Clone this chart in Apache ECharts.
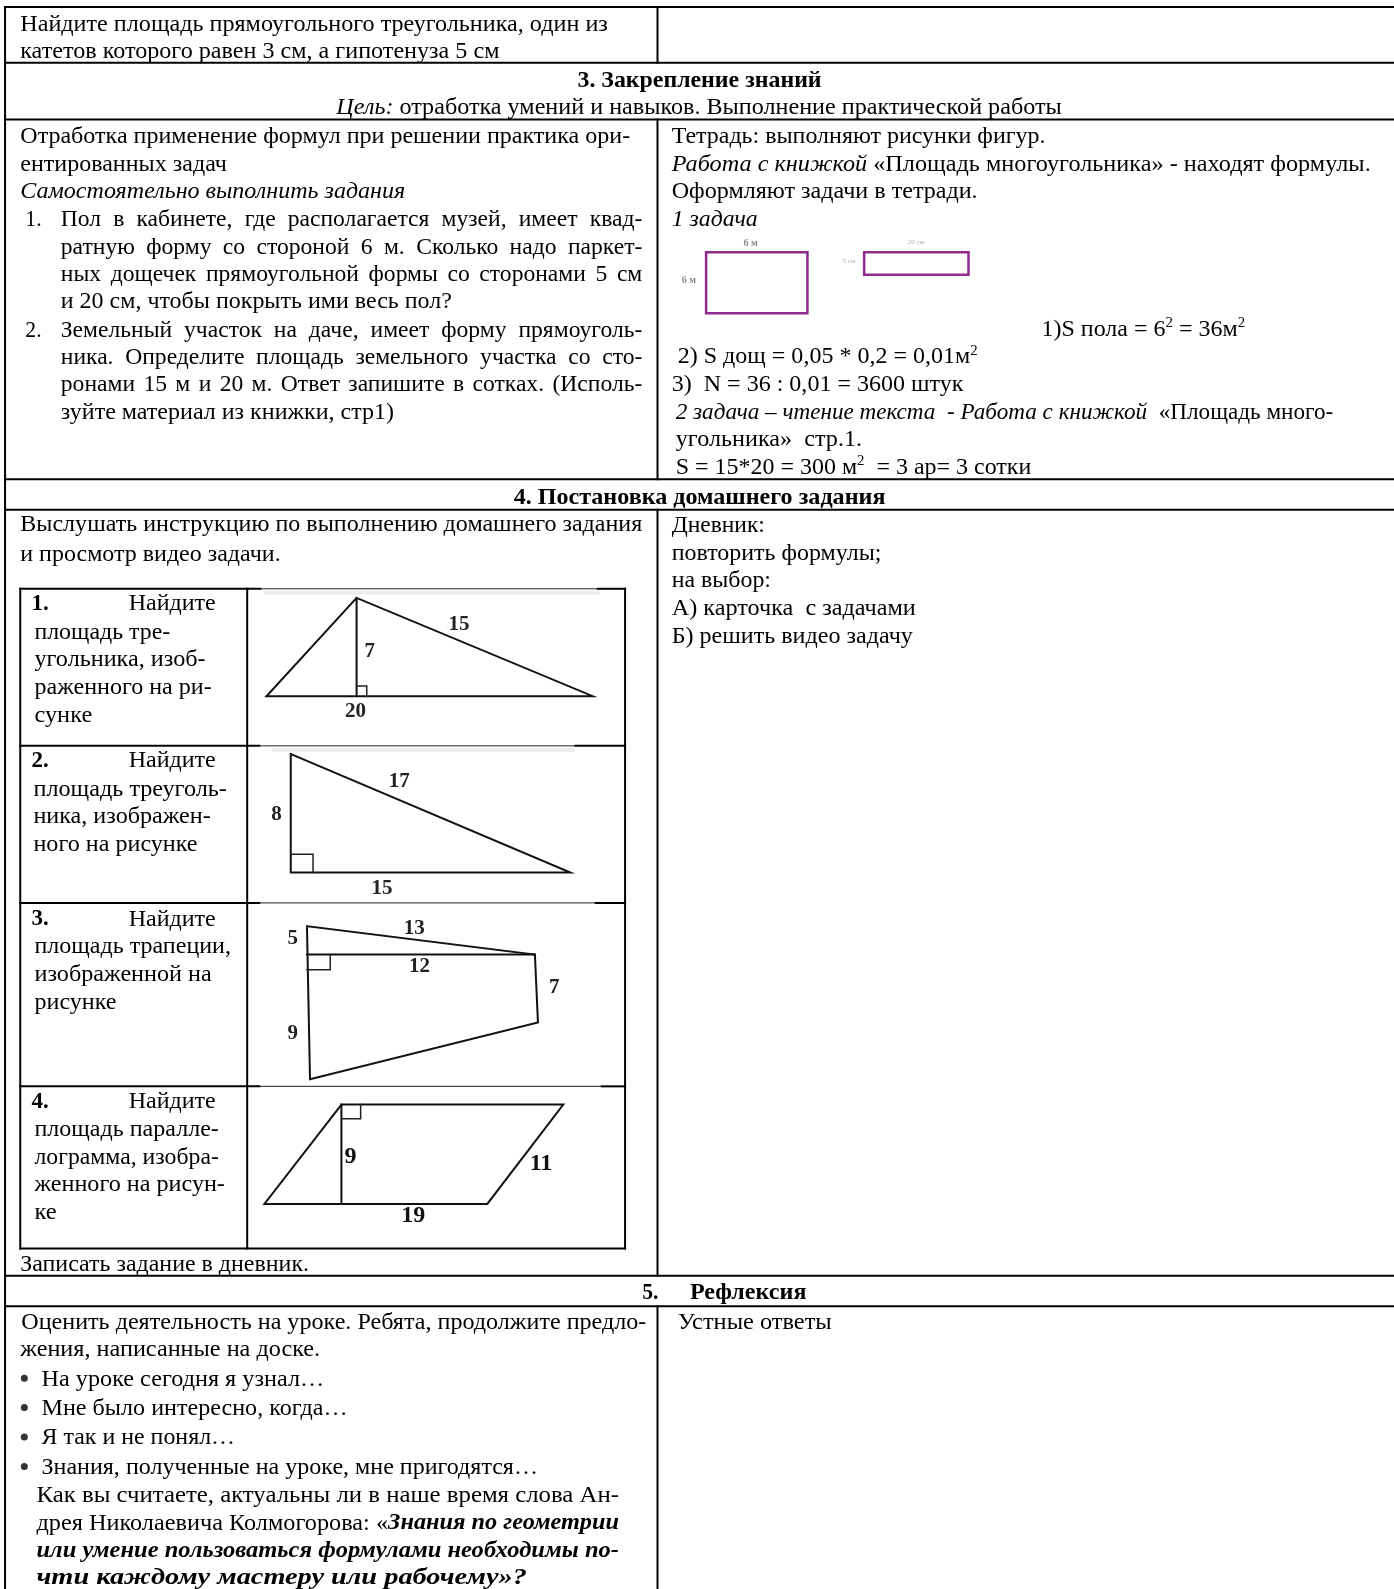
<!DOCTYPE html>
<html>
<head>
<meta charset="utf-8">
<title>Урок</title>
<script src="https://cdn.jsdelivr.net/npm/echarts@6/dist/echarts.min.js"></script>
<style>
  html, body { margin: 0; padding: 0; background: #fff; }
  #main { width: 1394px; height: 1589px; }
</style>
</head>
<body>
<div id="main"></div>
<script>
// text of the page. markup: {i|..} italic, {b|..} bold, {bi|..} bold italic, {s|..} superscript
const introLines = [
  "Найдите площадь прямоугольного треугольника, один из",
  "катетов которого равен 3 см, а гипотенуза 5 см"
];
const section3Head = ["{b|3. Закрепление знаний}", "{i|Цель:} отработка умений и навыков. Выполнение практической работы"];
const practiceLines = [
  "Отработка применение формул при решении практика ори-",
  "ентированных задач",
  "{i|Самостоятельно выполнить задания}"
];
const taskNumbers = ["1.", "2."];
const task1Lines = [
  "Пол в кабинете, где располагается музей, имеет квад-",
  "ратную форму со стороной 6 м. Сколько надо паркет-",
  "ных дощечек прямоугольной формы со сторонами 5 см",
  "и 20 см, чтобы покрыть ими весь пол?"
];
const task2Lines = [
  "Земельный участок на даче, имеет форму прямоуголь-",
  "ника.  Определите площадь земельного участка со сто-",
  "ронами 15 м и 20 м.  Ответ запишите в сотках.  (Исполь-",
  "зуйте материал из книжки, стр1)"
];
const notebookLines = [
  "Тетрадь: выполняют рисунки фигур.",
  "{i|Работа с книжкой} «Площадь многоугольника» - находят формулы.",
  "Оформляют задачи в тетради.",
  "{i|1 задача}"
];
const solutionLines = [
  "1)S пола = 6{s|2} = 36м{s|2}",
  "2) S дощ = 0,05 * 0,2 = 0,01м{s|2}",
  "3)  N = 36 : 0,01 = 3600 штук",
  "{i|2 задача – чтение текста  - Работа с книжкой}  «Площадь много-",
  "угольника»  стр.1.",
  "S = 15*20 = 300 м{s|2}  = 3 ар= 3 сотки"
];
const section4Head = ["{b|4. Постановка домашнего задания}"];
const homeworkLines = ["Выслушать инструкцию по выполнению домашнего задания", "и просмотр видео задачи."];
const diaryLines = ["Дневник:", "повторить формулы;", "на выбор:", "А) карточка  с задачами", "Б) решить видео задачу"];
const cardNumbers = ["{b|1.}", "{b|2.}", "{b|3.}", "{b|4.}"];
const cardFirstWord = "Найдите";
const card1Lines = ["площадь тре-", "угольника, изоб-", "раженного на ри-", "сунке"];
const card2Lines = ["площадь треуголь-", "ника, изображен-", "ного на рисунке"];
const card3Lines = ["площадь трапеции,", "изображенной на", "рисунке"];
const card4Lines = ["площадь паралле-", "лограмма, изобра-", "женного на рисун-", "ке"];
const writeDownLine = ["Записать задание в дневник."];
const section5Number = ["{b|5.}"];
const section5Title = ["{b|Рефлексия}"];
const reflectionLines = ["Оценить деятельность на уроке. Ребята, продолжите предло-", "жения, написанные на доске."];
const bulletLines = [
  "На уроке сегодня я узнал…",
  "Мне было интересно, когда…",
  "Я так и не понял…",
  "Знания, полученные на уроке, мне пригодятся…"
];
const quoteLines = [
  "Как вы считаете, актуальны ли в наше время слова Ан-",
  "дрея Николаевича Колмогорова: «{bi|Знания по геометрии}",
  "{bi|или умение пользоваться формулами необходимы по-}",
  "{bi|чти каждому мастеру или рабочему»?}"
];
const oralLine = ["Устные ответы"];

// ruled lines of the table, [x, y] in the units of the hidden axes
const tableRules = [
  [[5, 7], [1376, 7]], [[5, 62], [1376, 62]], [[5, 118], [1376, 118]],
  [[5, 473], [1376, 473]], [[5, 503], [1376, 503]], [[5, 1259], [1376, 1259]], [[5, 1289], [1376, 1289]],
  [[5, 7], [5, 1568]],
  [[649, 7], [649, 62]], [[649, 118], [649, 473]], [[649, 503], [649, 1259]], [[649, 1289], [649, 1568]]
];
const cardRules = [
  [[20, 581], [257, 581]], [[590, 581], [617, 581]],
  [[20, 736], [256, 736]], [[568, 736], [617, 736]],
  [[20, 891], [256, 891]], [[588, 891], [617, 891]],
  [[20, 1072], [256, 1072]], [[594, 1072], [617, 1072]],
  [[20, 1232], [617, 1232]],
  [[20, 581], [20, 1232]], [[244, 581], [244, 1232]], [[617, 581], [617, 1232]]
];
const cardThinRules = [
  [[257, 581], [590, 581]], [[256, 736], [568, 736]], [[256, 891], [588, 891]], [[256, 1072], [594, 1072]]
];
// the scan left a pale band under those rules
const cardScanBands = [
  [[262, 585], [590, 585]], [[270, 740], [565, 740]]
];
// drawings
const triangle1 = [[352, 590], [263, 687], [585, 687], [352, 590], [352, 687]];
const triangle1Mark = [[352, 677], [362, 677], [362, 687]];
const triangle2 = [[287, 744], [287, 861], [563, 861], [287, 744]];
const triangle2Mark = [[287, 843], [309, 843], [309, 861]];
const trapezoid = [[303, 914], [528, 942], [531, 1009], [306, 1065], [303, 914]];
const trapezoidChord = [[303, 942], [528, 942]];
const trapezoidMark = [[303, 957], [326, 957], [326, 942]];
const parallelogram = [[337, 1090], [556, 1090], [481, 1188], [261, 1188], [337, 1090]];
const parallelogramHeight = [[337, 1090], [337, 1188]];
const parallelogramMark = [[356, 1090], [356, 1104], [337, 1104]];
const floorRect = [[697, 249], [797, 249], [797, 309], [697, 309], [697, 249]];
const plankRect = [[853, 249], [956, 249], [956, 271], [853, 271], [853, 249]];
// labels on the drawings: text, x, y
const figureLabels = [
  ["15", 453, 616], ["7", 365, 643], ["20", 351, 702],
  ["17", 394, 771], ["8", 273, 804], ["15", 377, 877],
  ["5", 289, 926], ["13", 409, 916], ["12", 414, 954], ["7", 547, 975], ["9", 289, 1020]
];
const figureBoldLabels = [["9", 346, 1142], ["11", 534, 1148], ["19", 408, 1200]];
const sketchLabels = [["6 м", 741, 240], ["6 м", 680, 277]];
const sketchTinyLabels = [["20 см", 904, 239], ["5 см", 838, 258]];
const bulletMarks = [[24, 1360], [24, 1389], [24, 1418], [24, 1447]];

const VIEW_W = 1376, VIEW_H = 1568;
const k = 1394 / VIEW_W;
const FAMILY = '"Liberation Serif", "Times New Roman", serif';
const SIZE = 23.6;
const TEXT_SHIFT = 1.2;

const ctx = document.createElement("canvas").getContext("2d");
function fontOf(style, size) {
  const it = style === "i" || style === "bi" ? "italic " : "";
  const bo = style === "b" || style === "bi" ? "bold " : "";
  return it + bo + size + "px " + FAMILY;
}
function parseRuns(str) {
  const runs = [];
  const re = /\{(bi|b|i|s)\|([^}]*)\}|([^{]+)/g;
  let m;
  while ((m = re.exec(str))) {
    if (m[1]) runs.push({ style: m[1], text: m[2] });
    else runs.push({ style: "", text: m[3] });
  }
  return runs;
}
function runSize(run) { return run.style === "s" ? SIZE * 0.62 : SIZE; }
function runWidth(run, text) {
  ctx.font = fontOf(run.style, runSize(run));
  return ctx.measureText(text).width;
}

const textItems = [];
// one line: squeezed to fit x0..x1, or spread word by word when justified
function addLine(str, x0, x1, y, justify) {
  const runs = parseRuns(str);
  const target = (x1 - x0) * k;
  if (justify) {
    const words = [];
    runs.forEach(function (r) {
      r.text.split(/\s+/).filter(Boolean).forEach(function (w) { words.push({ style: r.style, text: w }); });
    });
    const total = words.reduce(function (a, w) { return a + runWidth(w, w.text); }, 0);
    const gap = (target - total) / (words.length - 1);
    let pos = 0;
    words.forEach(function (w) {
      textItems.push({ x: x0 + pos / k, y: y, text: w.text, style: w.style, size: SIZE, sx: 1 });
      pos += runWidth(w, w.text) + gap;
    });
    return;
  }
  const total = runs.reduce(function (a, r) { return a + runWidth(r, r.text); }, 0);
  const sx = target / total;
  let pos = 0;
  runs.forEach(function (r) {
    textItems.push({
      x: x0 + pos / k, y: r.style === "s" ? y - 6 : y, text: r.text,
      style: r.style === "s" ? "" : r.style, size: runSize(r), sx: sx
    });
    pos += runWidth(r, r.text) * sx;
  });
}
function addBlock(lines, x0s, x1s, ys, justifyCount) {
  lines.forEach(function (line, i) {
    const x0 = Array.isArray(x0s) ? x0s[i] : x0s;
    addLine(line, x0, x1s[i], ys[i] + TEXT_SHIFT, i < (justifyCount || 0));
  });
}

addBlock(introLines, 20, [600, 493], [23, 50]);
addBlock(section3Head, [570, 332], [811, 1048], [79, 105]);
addBlock(practiceLines, 20, [622, 224, 400], [134, 161, 188]);
addBlock(taskNumbers, 25, [41, 41], [216, 325]);
addBlock(task1Lines, 60, [634, 634, 634, 446], [216, 243, 270, 297], 3);
addBlock(task2Lines, 60, [634, 634, 634, 389], [325, 352, 379, 406], 3);
addBlock(notebookLines, 663, [1032, 1353, 965, 748], [134, 161, 188, 216]);
addBlock(solutionLines, [1028, 669, 663, 667, 667, 667], [1229, 965, 951, 1316, 851, 1018], [324, 351, 379, 406, 433, 460]);
addBlock(section4Head, 507, [874], [490]);
addBlock(homeworkLines, 20, [634, 277], [517, 546]);
addBlock(diaryLines, 663, [755, 870, 761, 904, 901], [518, 545, 572, 600, 627]);
addBlock(cardNumbers, 31, [48, 48, 48, 48], [595, 750, 906, 1086]);
[595, 750, 906, 1086].forEach(function (y) { addLine(cardFirstWord, 127, 213, y + TEXT_SHIFT); });
addBlock(card1Lines, 34, [168, 203, 209, 91], [623, 650, 678, 705]);
addBlock(card2Lines, 33, [224, 208, 195], [778, 805, 832]);
addBlock(card3Lines, 34, [228, 209, 115], [933, 961, 988]);
addBlock(card4Lines, 34, [216, 216, 222, 56], [1114, 1141, 1168, 1196]);
addBlock(writeDownLine, 20, [305], [1247]);
addBlock(section5Number, 634, [650], [1275]);
addBlock(section5Title, 681, [796], [1275]);
addBlock(reflectionLines, [21, 20], [638, 316], [1304, 1331]);
addBlock(bulletLines, 41, [320, 343, 232, 531], [1360, 1389, 1418, 1447]);
addBlock(quoteLines, 36, [611, 611, 611, 520], [1475, 1502, 1529, 1556]);
addBlock(oralLine, 669, [821], [1304]);

function polyline(points, color, width) {
  return {
    type: "line", data: points, symbol: "none", silent: true, animation: false, clip: false,
    lineStyle: { color: color, width: width, cap: "square", join: "miter" }
  };
}
function labelSeries(labels, font, color) {
  return {
    type: "custom", silent: true, animation: false, clip: false,
    data: labels.map(function (l) { return [l[1], l[2]]; }),
    renderItem: function (params, api) {
      const p = api.coord([api.value(0), api.value(1)]);
      return {
        type: "text", x: p[0], y: p[1],
        style: { text: labels[params.dataIndex][0], font: font, fill: color, textAlign: "center", textVerticalAlign: "middle" }
      };
    }
  };
}

const series = [];
cardScanBands.forEach(function (r) { series.push(polyline(r, "#ececec", 4)); });
tableRules.forEach(function (r) { series.push(polyline(r, "#000", 2)); });
cardRules.forEach(function (r) { series.push(polyline(r, "#000", 2)); });
cardThinRules.forEach(function (r) { series.push(polyline(r, "#222", 1)); });
[triangle1, triangle2, trapezoid, trapezoidChord, parallelogram, parallelogramHeight].forEach(function (s) {
  series.push(polyline(s, "#111", 2));
});
[triangle1Mark, triangle2Mark, trapezoidMark, parallelogramMark].forEach(function (s) {
  series.push(polyline(s, "#222", 1.5));
});
[floorRect, plankRect].forEach(function (s) { series.push(polyline(s, "#8e2a8e", 2.5)); });
series.push(labelSeries(figureLabels, "bold 21px " + FAMILY, "#222"));
series.push(labelSeries(figureBoldLabels, "bold 24px " + FAMILY, "#111"));
series.push(labelSeries(sketchLabels, "bold 10px " + FAMILY, "#888"));
series.push(labelSeries(sketchTinyLabels, "7px " + FAMILY, "#aaa"));
series.push({
  type: "scatter", data: bulletMarks, symbol: "circle", symbolSize: 7, silent: true, animation: false,
  itemStyle: { color: "#000" }
});
series.push({
  type: "custom", silent: true, animation: false, clip: false,
  data: textItems.map(function (t) { return [t.x, t.y]; }),
  renderItem: function (params, api) {
    const t = textItems[params.dataIndex];
    const p = api.coord([api.value(0), api.value(1)]);
    return {
      type: "text", x: p[0], y: p[1], scaleX: t.sx, originX: 0, originY: 0,
      style: { text: t.text, font: fontOf(t.style, t.size), fill: "#000", textAlign: "left", textVerticalAlign: "middle" }
    };
  }
});

const chart = echarts.init(document.getElementById("main"), null, { renderer: "canvas" });
chart.setOption({
  backgroundColor: "#fff",
  animation: false,
  tooltip: { show: false },
  grid: { left: 0, right: 0, top: 0, bottom: 0 },
  xAxis: { type: "value", min: 0, max: VIEW_W, show: false },
  yAxis: { type: "value", min: 0, max: VIEW_H, inverse: true, show: false },
  series: series
});
</script>
</body>
</html>
